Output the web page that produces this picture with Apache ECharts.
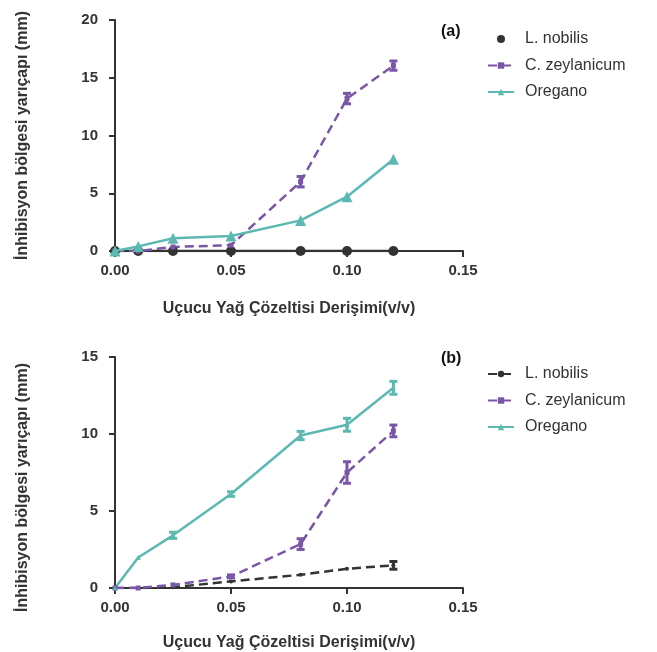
<!DOCTYPE html>
<html>
<head>
<meta charset="utf-8">
<script src="https://cdn.jsdelivr.net/npm/echarts@6/dist/echarts.min.js"></script>
<style>
  html, body { margin: 0; padding: 0; background: #fff; }
  #chart { width: 657px; height: 652px; }
</style>
</head>
<body>
<div id="chart"></div>
<script>
  // konsantrasyonlar (v/v)
  const concentrations = [0, 0.01, 0.025, 0.05, 0.08, 0.10, 0.12]
  const xTicks = [0, 0.05, 0.10, 0.15]

  // (a) grafiği
  const nobilisA = [0, 0, 0, 0, 0, 0, 0]
  const zeylanicumA = [0, 0, 0.35, 0.5, 6.0, 13.2, 16.05]
  const zeylanicumErrA = [0, 0, 0, 0, 0.45, 0.45, 0.4]
  const oreganoA = [0, 0.4, 1.1, 1.3, 2.65, 4.7, 7.95]

  // (b) grafiği
  const nobilisB = [0, 0, 0.05, 0.43, 0.86, 1.25, 1.47]
  const nobilisErrB = [0, 0, 0, 0, 0, 0, 0.25]
  const zeylanicumB = [0, 0, 0.2, 0.75, 2.85, 7.5, 10.2]
  const zeylanicumErrB = [0, 0, 0, 0.1, 0.35, 0.7, 0.38]
  const oreganoB = [0, 1.98, 3.42, 6.1, 9.9, 10.6, 13.0]
  const oreganoErrB = [0, 0, 0.2, 0.15, 0.27, 0.42, 0.42]

  const PURPLE = '#7a56a9'
  const TEAL = '#5cb9b2'
  const DARK = '#333333'
  const FONT = 'Liberation Sans'

  const pairs = (vals) => concentrations.map((x, i) => [x, vals[i]])

  function lineSeries(name, idx, vals, color, opt) {
    return {
      name,
      type: 'line',
      xAxisIndex: idx,
      yAxisIndex: idx,
      data: pairs(vals),
      symbol: opt.symbol,
      symbolSize: opt.size,
      showAllSymbol: true,
      lineStyle: { color, width: 2.5, type: opt.dashed ? [9, 5] : 'solid' },
      itemStyle: { color },
      emphasis: { disabled: true },
      z: opt.z || 2
    }
  }

  // hata çubukları
  function errSeries(idx, vals, errs, color) {
    const data = []
    concentrations.forEach((x, i) => {
      if (errs[i] > 0) data.push([x, vals[i] - errs[i], vals[i] + errs[i]])
    })
    return {
      type: 'custom',
      xAxisIndex: idx,
      yAxisIndex: idx,
      data,
      encode: { x: 0, y: [1, 2] },
      z: 3,
      silent: true,
      renderItem(params, api) {
        const x = api.value(0)
        const top = api.coord([x, api.value(2)])
        const bot = api.coord([x, api.value(1)])
        const w = 4
        const style = { stroke: color, lineWidth: 3 }
        return {
          type: 'group',
          children: [
            { type: 'line', shape: { x1: top[0], y1: top[1], x2: bot[0], y2: bot[1] }, style },
            { type: 'line', shape: { x1: top[0] - w, y1: top[1], x2: top[0] + w, y2: top[1] }, style },
            { type: 'line', shape: { x1: bot[0] - w, y1: bot[1], x2: bot[0] + w, y2: bot[1] }, style }
          ]
        }
      }
    }
  }

  function xAxis(idx) {
    return {
      type: 'value',
      gridIndex: idx,
      min: 0,
      max: 0.15,
      interval: 0.05,
      name: 'Uçucu Yağ Çözeltisi Derişimi(v/v)',
      nameLocation: 'middle',
      nameGap: idx === 0 ? 50 : 47,
      nameTextStyle: { fontFamily: FONT, fontSize: 16, fontWeight: 'bold', color: DARK },
      axisLine: { lineStyle: { color: DARK, width: 2 } },
      axisTick: { length: 6, lineStyle: { color: DARK, width: 2 } },
      axisLabel: {
        fontFamily: FONT, fontSize: 15, fontWeight: 'bold', color: DARK, margin: 12,
        formatter: (v) => v.toFixed(2)
      },
      splitLine: { show: false }
    }
  }

  function yAxis(idx, max) {
    return {
      type: 'value',
      gridIndex: idx,
      min: 0,
      max,
      interval: 5,
      name: 'İnhibisyon bölgesi yarıçapı (mm)',
      nameLocation: 'middle',
      nameGap: 84,
      nameTextStyle: {
        fontFamily: FONT, fontSize: 16, fontWeight: 'bold', color: DARK,
        padding: idx === 0 ? 0 : [0, 30, 0, 0]
      },
      axisLine: { lineStyle: { color: DARK, width: 2 } },
      axisTick: { length: 6, lineStyle: { color: DARK, width: 2 } },
      axisLabel: { fontFamily: FONT, fontSize: 15, fontWeight: 'bold', color: DARK, margin: 17 },
      splitLine: { show: false }
    }
  }

  function legend(top, items) {
    return {
      orient: 'vertical',
      left: 487,
      top,
      padding: 0,
      itemWidth: 26,
      itemHeight: 8,
      itemGap: 10.5,
      selectedMode: false,
      data: items,
      formatter: (name) => name.replace(' (b)', ''),
      textStyle: { fontFamily: FONT, fontSize: 16, color: DARK, padding: [0, 0, 0, 6] }
    }
  }

  const chart = echarts.init(document.getElementById('chart'))
  chart.setOption({
    animation: false,
    title: [
      { text: '(a)', left: 436, top: 19, textStyle: { fontFamily: FONT, fontSize: 16, fontWeight: 'bold', color: '#111' } },
      { text: '(b)', left: 436, top: 346, textStyle: { fontFamily: FONT, fontSize: 16, fontWeight: 'bold', color: '#111' } }
    ],
    legend: [
      legend(31, [{ name: 'L. nobilis', icon: 'circle' }, 'C. zeylanicum', 'Oregano']),
      legend(366, ['L. nobilis (b)', 'C. zeylanicum (b)', 'Oregano (b)'])
    ],
    grid: [
      { left: 115, top: 20, width: 348, height: 231 },
      { left: 115, top: 357, width: 348, height: 231 }
    ],
    xAxis: [xAxis(0), xAxis(1)],
    yAxis: [yAxis(0, 20), yAxis(1, 15)],
    series: [
      lineSeries('L. nobilis', 0, nobilisA, DARK, { symbol: 'circle', size: 10 }),
      lineSeries('C. zeylanicum', 0, zeylanicumA, PURPLE, { symbol: 'rect', size: 5, dashed: true }),
      errSeries(0, zeylanicumA, zeylanicumErrA, PURPLE),
      lineSeries('Oregano', 0, oreganoA, TEAL, { symbol: 'triangle', size: 11, z: 4 }),

      lineSeries('L. nobilis (b)', 1, nobilisB, DARK, { symbol: 'circle', size: 4, dashed: true }),
      errSeries(1, nobilisB, nobilisErrB, DARK),
      lineSeries('C. zeylanicum (b)', 1, zeylanicumB, PURPLE, { symbol: 'rect', size: 5, dashed: true }),
      errSeries(1, zeylanicumB, zeylanicumErrB, PURPLE),
      lineSeries('Oregano (b)', 1, oreganoB, TEAL, { symbol: 'triangle', size: 5 }),
      errSeries(1, oreganoB, oreganoErrB, TEAL)
    ]
  })
</script>
</body>
</html>
